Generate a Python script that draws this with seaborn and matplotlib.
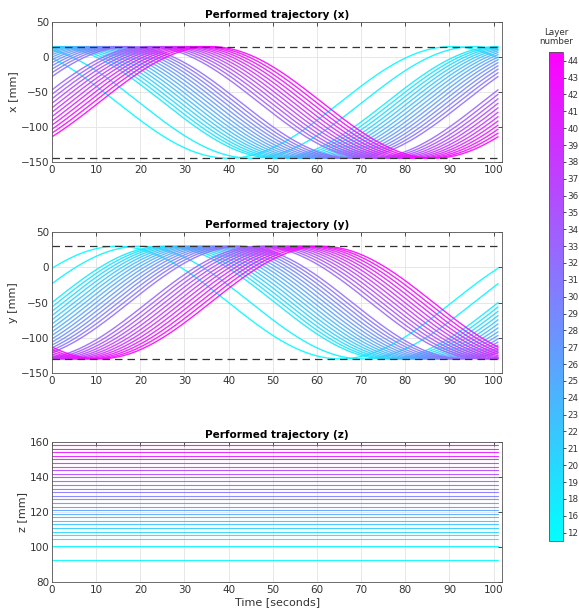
import numpy as np
import pandas as pd
import matplotlib
matplotlib.use("Agg")
import matplotlib.pyplot as plt
import matplotlib.colors as mcolors
import matplotlib.cm as cm
import seaborn as sns

# layers shown in the colorbar (evenly spaced labels)
layers = [12, 16, 18, 19, 20, 21, 22, 23, 24, 25, 26, 27, 28, 29, 30,
          31, 32, 33, 34, 35, 36, 37, 38, 39, 40, 41, 42, 43, 44]
# time [s] at which x reaches its max, read per layer off the plot
phase_s = [-10.5, -5.5, 0.0, 1.25, 2.5, 3.75, 5.0, 6.25, 7.5, 8.75, 10.0,
           11.25, 12.5, 13.75, 15.0, 16.25, 17.5, 21.6, 22.9, 24.2, 25.5,
           26.8, 28.1, 29.4, 30.7, 32.0, 33.3, 34.6, 35.9]
# layer height [mm]
z_mm = [92.4, 100.6, 104.6, 106.6, 108.7, 110.7, 112.8, 114.8, 116.9,
        118.9, 121.0, 123.0, 125.1, 127.1, 129.2, 131.2, 133.3, 135.6,
        137.6, 139.7, 141.7, 143.8, 145.8, 147.9, 149.9, 152.0, 154.0,
        156.0, 157.9]
period_s = 101.0
t_end = 101.0
x_lim = [-145, 15]
y_lim = [-130, 30]

# build the long table
t = np.linspace(0, t_end, 303)
rows = []
for i, (L, ph, z) in enumerate(zip(layers, phase_s, z_mm)):
    ang = 2 * np.pi * (t - ph) / period_s
    xc = (x_lim[0] + x_lim[1]) / 2
    yc = (y_lim[0] + y_lim[1]) / 2
    amp = (x_lim[1] - x_lim[0]) / 2
    rows.append(pd.DataFrame({"t": t, "idx": i, "layer": L,
                              "x": xc + amp * np.cos(ang),
                              "y": yc + amp * np.sin(ang),
                              "z": z}))
df = pd.concat(rows, ignore_index=True)

sns.set_style("white")
plt.rcParams['font.family'] = ['DejaVu Sans']
grey = "#333333"

fig = plt.figure(figsize=(5.79, 6.15), dpi=100)
pos = [[0.0898, 0.737, 0.778, 0.227],
       [0.0898, 0.3935, 0.778, 0.229],
       [0.0898, 0.0537, 0.778, 0.228]]
axes = [fig.add_axes(p) for p in pos]
norm = mcolors.Normalize(-0.5, len(layers) - 0.5)
order = list(range(len(layers)))[::-1]

specs = [("x", "x [mm]", (-150, 50), [-150, -100, -50, 0, 50], x_lim),
         ("y", "y [mm]", (-150, 50), [-150, -100, -50, 0, 50], y_lim),
         ("z", "z [mm]", (80, 160), [80, 100, 120, 140, 160], None)]

for ax, (col, lab, ylim, yt, lims) in zip(axes, specs):
    sns.lineplot(data=df, x="t", y=col, hue="idx", hue_order=order,
                 palette="cool", hue_norm=norm, legend=False,
                 estimator=None, sort=False, lw=1.0 if col != "z" else 0.8,
                 alpha=0.9, ax=ax)
    if lims is not None:
        for v in lims:
            ax.axhline(v, color="#333333", ls=(0, (6, 4)), lw=0.9, zorder=5)
    ax.set_xlim(0, 102)
    ax.set_ylim(*ylim)
    ax.set_yticks(yt)
    ax.set_xticks(range(0, 101, 10))
    ax.grid(True, color="#e3e3e3", lw=0.6)
    ax.set_axisbelow(True)
    ax.tick_params(direction="in", length=3, width=0.6, labelsize=7.5,
                   colors=grey, top=True, right=True, pad=2)
    for s in ax.spines.values():
        s.set_color("#555555")
        s.set_linewidth(0.6)
    ax.set_ylabel(lab, fontsize=8, color=grey, labelpad=2)
    ax.set_xlabel("")
    ax.set_title("Performed trajectory (%s)" % col, fontsize=7.5,
                 fontweight="bold", pad=3, color="black")

axes[2].set_xlabel("Time [seconds]", fontsize=8, color=grey, labelpad=2)

cax = fig.add_axes([0.948, 0.1203, 0.0237, 0.7946])
sm = cm.ScalarMappable(norm=norm, cmap="cool")
cb = fig.colorbar(sm, cax=cax, ticks=range(len(layers)))
cb.set_ticklabels([str(L) for L in layers])
cb.ax.tick_params(labelsize=6.3, colors=grey, length=2.5, width=0.6, pad=0.8)
cb.outline.set_edgecolor("#555555")
cb.outline.set_linewidth(0.6)
fig.text(0.9605, 0.94, "Layer\nnumber", ha="center", va="center",
         fontsize=6.3, color=grey, linespacing=1.1)

fig.savefig("out.png", dpi=100)
